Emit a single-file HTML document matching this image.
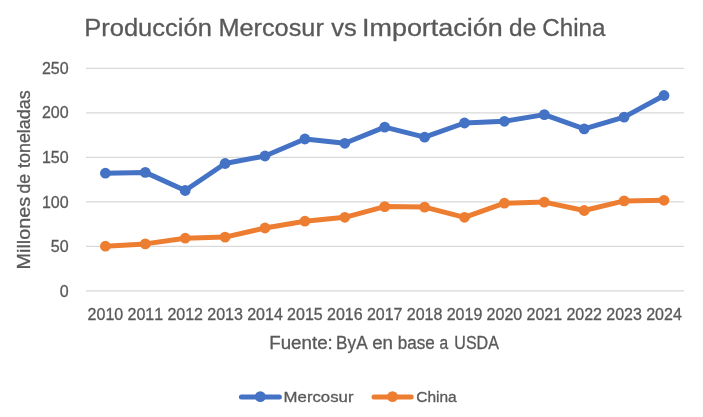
<!DOCTYPE html><html><head><meta charset="utf-8"><style>html,body{margin:0;padding:0;background:#fff;}svg{display:block;filter:blur(0.55px);}text{font-family:"Liberation Sans",sans-serif;font-kerning:none;fill:#595959;stroke:#595959;stroke-width:0.3px;}</style></head><body>
<svg width="703" height="417" viewBox="0 0 703 417">
<rect width="703" height="417" fill="#fff"/>
<line x1="86" y1="68.30" x2="684" y2="68.30" stroke="#D9D9D9" stroke-width="1.2"/>
<line x1="86" y1="112.82" x2="684" y2="112.82" stroke="#D9D9D9" stroke-width="1.2"/>
<line x1="86" y1="157.34" x2="684" y2="157.34" stroke="#D9D9D9" stroke-width="1.2"/>
<line x1="86" y1="201.86" x2="684" y2="201.86" stroke="#D9D9D9" stroke-width="1.2"/>
<line x1="86" y1="246.38" x2="684" y2="246.38" stroke="#D9D9D9" stroke-width="1.2"/>
<line x1="86" y1="290.90" x2="684" y2="290.90" stroke="#D9D9D9" stroke-width="1.2"/>
<text x="84.21" y="35.7" font-size="24.2" textLength="127.65" lengthAdjust="spacingAndGlyphs">Producción</text>
<text x="218.43" y="35.7" font-size="24.2" textLength="105.39" lengthAdjust="spacingAndGlyphs">Mercosur</text>
<text x="331.21" y="35.7" font-size="24.2" textLength="25.51" lengthAdjust="spacingAndGlyphs">vs</text>
<text x="362.02" y="35.7" font-size="24.2" textLength="140.63" lengthAdjust="spacingAndGlyphs">Importación</text>
<text x="509.08" y="35.7" font-size="24.2" textLength="27.11" lengthAdjust="spacingAndGlyphs">de</text>
<text x="542.37" y="35.7" font-size="24.2" textLength="63.13" lengthAdjust="spacingAndGlyphs">China</text>
<text x="68.6" y="73.9" font-size="16" text-anchor="end">250</text>
<text x="68.6" y="118.4" font-size="16" text-anchor="end">200</text>
<text x="68.6" y="162.9" font-size="16" text-anchor="end">150</text>
<text x="68.6" y="207.5" font-size="16" text-anchor="end">100</text>
<text x="68.6" y="252.0" font-size="16" text-anchor="end">50</text>
<text x="68.6" y="296.5" font-size="16" text-anchor="end">0</text>
<text x="105.4" y="319.7" font-size="16" text-anchor="middle" textLength="35.6" lengthAdjust="spacingAndGlyphs">2010</text>
<text x="145.3" y="319.7" font-size="16" text-anchor="middle" textLength="35.6" lengthAdjust="spacingAndGlyphs">2011</text>
<text x="185.2" y="319.7" font-size="16" text-anchor="middle" textLength="35.6" lengthAdjust="spacingAndGlyphs">2012</text>
<text x="225.1" y="319.7" font-size="16" text-anchor="middle" textLength="35.6" lengthAdjust="spacingAndGlyphs">2013</text>
<text x="265.0" y="319.7" font-size="16" text-anchor="middle" textLength="35.6" lengthAdjust="spacingAndGlyphs">2014</text>
<text x="304.9" y="319.7" font-size="16" text-anchor="middle" textLength="35.6" lengthAdjust="spacingAndGlyphs">2015</text>
<text x="344.8" y="319.7" font-size="16" text-anchor="middle" textLength="35.6" lengthAdjust="spacingAndGlyphs">2016</text>
<text x="384.7" y="319.7" font-size="16" text-anchor="middle" textLength="35.6" lengthAdjust="spacingAndGlyphs">2017</text>
<text x="424.6" y="319.7" font-size="16" text-anchor="middle" textLength="35.6" lengthAdjust="spacingAndGlyphs">2018</text>
<text x="464.5" y="319.7" font-size="16" text-anchor="middle" textLength="35.6" lengthAdjust="spacingAndGlyphs">2019</text>
<text x="504.4" y="319.7" font-size="16" text-anchor="middle" textLength="35.6" lengthAdjust="spacingAndGlyphs">2020</text>
<text x="544.3" y="319.7" font-size="16" text-anchor="middle" textLength="35.6" lengthAdjust="spacingAndGlyphs">2021</text>
<text x="584.2" y="319.7" font-size="16" text-anchor="middle" textLength="35.6" lengthAdjust="spacingAndGlyphs">2022</text>
<text x="624.1" y="319.7" font-size="16" text-anchor="middle" textLength="35.6" lengthAdjust="spacingAndGlyphs">2023</text>
<text x="664.0" y="319.7" font-size="16" text-anchor="middle" textLength="35.6" lengthAdjust="spacingAndGlyphs">2024</text>
<g transform="translate(29.9,269.3) rotate(-90)">
<text x="-0.12" y="0" font-size="18.3" textLength="72.54" lengthAdjust="spacingAndGlyphs">Millones</text>
<text x="75.76" y="0" font-size="18.3" textLength="19.52" lengthAdjust="spacingAndGlyphs">de</text>
<text x="101.33" y="0" font-size="18.3" textLength="77.62" lengthAdjust="spacingAndGlyphs">toneladas</text>
</g>
<text x="269.26" y="348.9" font-size="17.6" textLength="63.55" lengthAdjust="spacingAndGlyphs">Fuente:</text>
<text x="336.09" y="348.9" font-size="17.6" textLength="31.54" lengthAdjust="spacingAndGlyphs">ByA</text>
<text x="372.21" y="348.9" font-size="17.6" textLength="20.81" lengthAdjust="spacingAndGlyphs">en</text>
<text x="397.80" y="348.9" font-size="17.6" textLength="37.06" lengthAdjust="spacingAndGlyphs">base</text>
<text x="439.54" y="348.9" font-size="17.6" textLength="8.66" lengthAdjust="spacingAndGlyphs">a</text>
<text x="454.37" y="348.9" font-size="17.6" textLength="44.47" lengthAdjust="spacingAndGlyphs">USDA</text>
<polyline points="105.4,173.2 145.3,172.4 185.2,190.5 225.1,163.5 265.0,156.0 304.9,139.0 344.8,143.3 384.7,127.1 424.6,137.2 464.5,123.0 504.4,121.3 544.3,114.6 584.2,128.9 624.1,117.1 664.0,95.5" fill="none" stroke="#4472C4" stroke-width="5.0" stroke-linejoin="round" stroke-linecap="round"/>
<circle cx="105.4" cy="173.2" r="5.4" fill="#4472C4"/>
<circle cx="145.3" cy="172.4" r="5.4" fill="#4472C4"/>
<circle cx="185.2" cy="190.5" r="5.4" fill="#4472C4"/>
<circle cx="225.1" cy="163.5" r="5.4" fill="#4472C4"/>
<circle cx="265.0" cy="156.0" r="5.4" fill="#4472C4"/>
<circle cx="304.9" cy="139.0" r="5.4" fill="#4472C4"/>
<circle cx="344.8" cy="143.3" r="5.4" fill="#4472C4"/>
<circle cx="384.7" cy="127.1" r="5.4" fill="#4472C4"/>
<circle cx="424.6" cy="137.2" r="5.4" fill="#4472C4"/>
<circle cx="464.5" cy="123.0" r="5.4" fill="#4472C4"/>
<circle cx="504.4" cy="121.3" r="5.4" fill="#4472C4"/>
<circle cx="544.3" cy="114.6" r="5.4" fill="#4472C4"/>
<circle cx="584.2" cy="128.9" r="5.4" fill="#4472C4"/>
<circle cx="624.1" cy="117.1" r="5.4" fill="#4472C4"/>
<circle cx="664.0" cy="95.5" r="5.4" fill="#4472C4"/>
<polyline points="105.4,246.2 145.3,243.9 185.2,238.2 225.1,237.1 265.0,228.0 304.9,221.2 344.8,217.3 384.7,206.6 424.6,207.1 464.5,217.3 504.4,203.2 544.3,202.1 584.2,210.5 624.1,200.9 664.0,200.3" fill="none" stroke="#ED7D31" stroke-width="5.0" stroke-linejoin="round" stroke-linecap="round"/>
<circle cx="105.4" cy="246.2" r="5.4" fill="#ED7D31"/>
<circle cx="145.3" cy="243.9" r="5.4" fill="#ED7D31"/>
<circle cx="185.2" cy="238.2" r="5.4" fill="#ED7D31"/>
<circle cx="225.1" cy="237.1" r="5.4" fill="#ED7D31"/>
<circle cx="265.0" cy="228.0" r="5.4" fill="#ED7D31"/>
<circle cx="304.9" cy="221.2" r="5.4" fill="#ED7D31"/>
<circle cx="344.8" cy="217.3" r="5.4" fill="#ED7D31"/>
<circle cx="384.7" cy="206.6" r="5.4" fill="#ED7D31"/>
<circle cx="424.6" cy="207.1" r="5.4" fill="#ED7D31"/>
<circle cx="464.5" cy="217.3" r="5.4" fill="#ED7D31"/>
<circle cx="504.4" cy="203.2" r="5.4" fill="#ED7D31"/>
<circle cx="544.3" cy="202.1" r="5.4" fill="#ED7D31"/>
<circle cx="584.2" cy="210.5" r="5.4" fill="#ED7D31"/>
<circle cx="624.1" cy="200.9" r="5.4" fill="#ED7D31"/>
<circle cx="664.0" cy="200.3" r="5.4" fill="#ED7D31"/>
<line x1="241.4" y1="396.9" x2="279.4" y2="396.9" stroke="#4472C4" stroke-width="5.0" stroke-linecap="round"/>
<circle cx="260.3" cy="396.6" r="5.4" fill="#4472C4"/>
<text x="283.63" y="402.3" font-size="15.2" textLength="69.85" lengthAdjust="spacingAndGlyphs">Mercosur</text>
<line x1="374.0" y1="396.9" x2="411.2" y2="396.9" stroke="#ED7D31" stroke-width="5.0" stroke-linecap="round"/>
<circle cx="392.5" cy="396.6" r="5.4" fill="#ED7D31"/>
<text x="416.21" y="402.3" font-size="15.2" textLength="40.49" lengthAdjust="spacingAndGlyphs">China</text>
</svg></body></html>
